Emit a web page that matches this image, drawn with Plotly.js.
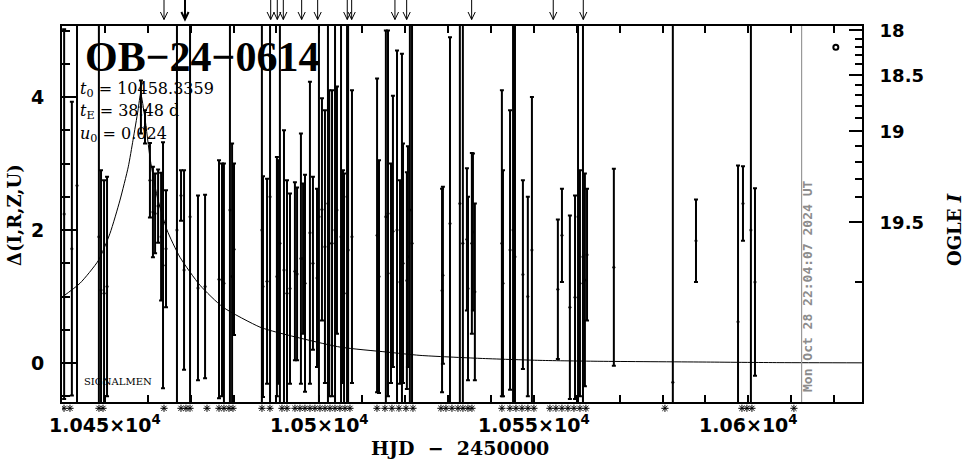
<!DOCTYPE html>
<html><head><meta charset="utf-8">
<script src="https://cdn.plot.ly/plotly-3.0.1.min.js"></script>
<style>html,body{margin:0;padding:0;background:#fff;}#chart{width:965px;height:459px;}</style>
</head><body><div id="chart"></div>
<script>
// ---- data ----
const obsT = [10440.5,10442.3,10443.5,10448.6,10449.1,10449.8,10450.5,10458.4,10459.35,10460.5,10461.2,10461.7,10462.4,10463.1,10463.55,10464.25,10466.8,10467.75,10468.45,10469.85,10471.7,10473.35,10476.6,10477.3,10477.75,10479.15,10479.65,10480.1,10486.6,10486.85,10487.8,10488.5,10490.1,10490.35,10490.8,10491.75,10492.45,10493.15,10494.3,10494.8,10495.7,10496.2,10496.65,10497.8,10498.5,10499.45,10499.9,10500.6,10501.3,10502.0,10502.3,10502.95,10503.65,10504.1,10505.05,10505.5,10505.75,10506.45,10506.7,10507.6,10513.45,10513.9,10515.5,10516.0,10516.7,10517.15,10518.1,10518.8,10519.25,10519.5,10520.4,10520.65,10521.1,10521.6,10528.6,10528.8,10530.45,10532.75,10533.45,10534.4,10534.65,10535.55,10535.8,10536.25,10542.55,10542.8,10544.45,10545.15,10545.6,10547.45,10548.6,10549.55,10555.6,10556.55,10558.4,10559.6,10560.3,10560.75,10561.45,10561.9,10562.4,10568.65,10582.4,10587.8,10597.6,10598.75,10600.6,10601.55];
const obsDelta = [2.24,1.72,2.67,1.9,1.1,1.05,1.15,3.85,3.55,2.75,2.27,2.25,2.36,1.9,1.47,1.72,2.0,2.52,1.4,2.2,1.13,1.15,1.26,1.25,1.2,2.3,1.3,1.71,2.0,1.15,1.23,2.5,1.3,1.37,1.8,1.4,1.05,1.12,1.38,1.34,1.57,1.57,1.2,1.96,1.5,1.28,2.2,2.31,1.75,2.4,1.8,1.8,2.0,2.3,1.9,1.3,1.05,2.5,1.7,1.9,1.92,1.3,2.2,2.25,1.35,1.98,2.0,1.22,2.0,1.5,1.24,1.6,2.3,1.8,1.09,1.32,2.1,2.4,1.8,1.86,1.12,1.8,1.97,1.07,1.8,1.2,1.7,2.0,1.6,1.33,1.0,1.7,1.11,1.92,0.84,0.99,2.2,1.2,1.6,1.25,1.63,1.44,-0.29,1.84,0.62,2.4,2.0,1.22];
const obsErr = [2.78,2.21,3.6,3.5,1.8,1.7,1.65,0.4,0.25,0.56,0.68,0.6,0.55,0.96,1.85,0.88,3.5,0.38,1.5,3.5,1.39,1.38,1.79,1.75,1.8,3.4,2.0,1.29,3.5,1.66,1.54,3.3,1.8,1.68,3.5,2.1,1.7,1.43,1.34,1.3,1.88,1.13,1.63,2.27,1.3,1.34,3.4,1.67,2.05,3.3,2.3,2.3,3.5,1.86,3.4,1.6,1.8,3.3,3.4,2.2,2.36,1.75,2.8,2.75,1.65,2.04,2.7,1.53,2.65,1.8,1.63,1.66,3.4,3.5,1.53,1.33,2.8,3.4,3.5,1.07,1.38,1.36,1.18,1.33,2.3,1.7,2.1,3.5,3.5,1.42,1.5,2.3,1.05,0.70,1.38,1.53,3.4,1.7,3.5,1.6,0.99,1.48,5.5,0.62,2.35,0.56,3.6,1.41];

const modelT = [10440.0,10444.2,10448.46,10451.19,10453.52,10455.45,10456.55,10457.72,10458.34,10459.3,10460.6,10462.2,10464.48,10467.51,10472.17,10477.53,10486.15,10490.82,10504.8,10515.76,10523.45,10537.44,10551.42,10565.41,10589.42,10607.37,10626.48];
const modelDelta = [0.99,1.20,1.54,1.95,2.45,2.95,3.35,3.80,4.05,3.70,3.05,2.50,2.00,1.59,1.17,0.84,0.54,0.45,0.24,0.165,0.115,0.07,0.04,0.026,0.015,0.006,0.003];

// observation markers (asterisks under the axis)
const markT = [10440.47,10441.86,10448.62,10449.56,10463.78,10467.74,10468.90,10469.84,10473.80,10476.60,10477.76,10478.93,10479.86,10486.62,10488.48,10491.28,10492.45,10494.31,10495.48,10496.64,10497.81,10498.97,10500.14,10501.31,10502.47,10503.64,10504.80,10505.97,10507.13,10513.43,10515.29,10516.92,10518.55,10520.19,10521.82,10528.34,10529.51,10530.91,10532.31,10533.47,10534.64,10535.57,10542.56,10544.43,10545.83,10547.23,10548.62,10550.02,10553.75,10555.15,10556.55,10557.95,10559.35,10560.75,10562.14,10580.56,10598.51,10599.67,10600.84,10610.63];
// arrows above the frame
const arrowT = [10463.78,10468.67,10488.65,10490.19,10491.59,10495.87,10499.60,10506.50,10507.53,10517.62,10520.35,10535.50,10554.52,10561.52];
const arrowBold = [0,1,0,0,0,0,0,0,0,0,0,0,0,0];

const keyT = [10620.4];
const keyDelta = [4.75];
const nowHJD = 10612.42;

const xTickVals = [10450,10500,10550,10600];
const xTickText = ['1.045×10<sup>4</sup>','1.05×10<sup>4</sup>','1.055×10<sup>4</sup>','1.06×10<sup>4</sup>'];
const leftTickVals = [0,2,4];
const ogleMajorText = ['18','18.5','19','19.5'];
const ogleMajorDelta = [5.003,4.326,3.484,2.116];
const ogleMinorDelta = [4.868,4.747,4.627,4.492,4.176,4.026,3.860,3.680,3.259,3.018,2.762,2.492,1.213];

const eventName = 'OB−24−0614';
const t0Text = '10458.3359', tEText = '38.48', u0Text = '0.024';
const stamp = 'Mon Oct 28 22:04:07 2024 UT';

// ---- layout geometry ----
const W = 965, H = 459, ML = 62, MR = 103, MT = 26, MB = 43;
const FRAME_BOTTOM = 402;                 // bottom of the data frame (px)
const PW = W - ML - MR, PH = H - MT - MB;
const XR = [10440, 10626.5], YR = [-0.586, 5.068];
const px = v => (v - ML) / PW;
const py = v => (H - MB - v) / PH;
const yDom = [py(FRAME_BOTTOM), 1];
const dayPx = PW / (XR[1] - XR[0]);

const traces = [
  {x: modelT, y: modelDelta, mode: 'lines', line: {color: '#000', width: 1, shape: 'spline', smoothing: 0.6}, hoverinfo: 'skip'},
  {x: obsT, y: obsDelta, mode: 'markers', marker: {color: '#000', size: 3},
   error_y: {type: 'data', array: obsErr, visible: true, color: '#000', thickness: 2, width: 2}},
  {x: keyT, y: keyDelta, mode: 'markers', marker: {symbol: 'circle-open', size: 5, color: '#000', line: {color: '#000', width: 2}}},
  {x: markT, y: markT.map(() => 0.55), yaxis: 'y4', mode: 'markers', hoverinfo: 'skip',
   marker: {symbol: 'asterisk-open', size: 6, color: '#000', line: {color: '#000', width: 1}}},
  {x: [null], y: [null], yaxis: 'y2', mode: 'markers', hoverinfo: 'skip'},
  {x: [null], y: [null], yaxis: 'y3', mode: 'markers', hoverinfo: 'skip'}
];

// arrows above the frame, drawn as shapes
const shapes = [{type: 'line', xref: 'x', yref: 'y domain', x0: nowHJD, x1: nowHJD, y0: 0, y1: 1, line: {color: '#999', width: 1.2}}];
const hw = 3.6 / dayPx;
arrowT.forEach((t, i) => {
  const w = arrowBold[i] ? 2 : 1;
  shapes.push({type: 'line', xref: 'x', yref: 'paper', x0: t, x1: t, y0: py(0), y1: py(19.5), line: {color: '#000', width: w}});
  shapes.push({type: 'path', xref: 'x', yref: 'paper',
    path: `M${t - hw},${py(12)} L${t},${py(19.5)} L${t + hw},${py(12)}`, line: {color: '#000', width: w}});
});

const ann = [];
const ser = 'DejaVu Serif';
ann.push({x: px(83), y: py(56.5), xref: 'paper', yref: 'paper', xanchor: 'left', yanchor: 'middle', showarrow: false,
  text: eventName, font: {family: 'Liberation Serif', size: 42, weight: 'bold', color: '#000'}});
[['<i>t</i><sub>0</sub> = ' + t0Text, 89], ['<i>t</i><sub>E</sub> = ' + tEText + ' d', 111.5], ['<i>u</i><sub>0</sub> = ' + u0Text, 134.5]]
  .forEach(([s, y]) => ann.push({x: px(78), y: py(y), xref: 'paper', yref: 'paper', xanchor: 'left', yanchor: 'middle', showarrow: false,
    text: s, font: {family: ser, size: 16, color: '#000'}}));
ann.push({x: px(82), y: py(381), xref: 'paper', yref: 'paper', xanchor: 'left', yanchor: 'middle', showarrow: false,
  text: 'SIGNALMEN', font: {family: ser, size: 10, color: '#000'}});
ann.push({x: px(14), y: py(215), xref: 'paper', yref: 'paper', xanchor: 'center', yanchor: 'middle', showarrow: false, textangle: -90,
  text: 'Δ(I,R,Z,U)', font: {family: ser, size: 18, weight: 'bold', color: '#000'}});
ann.push({x: px(955), y: py(230), xref: 'paper', yref: 'paper', xanchor: 'center', yanchor: 'middle', showarrow: false, textangle: -90,
  text: 'OGLE <i>I</i>', font: {family: ser, size: 18, weight: 'bold', color: '#000'}});
ann.push({x: px(460), y: py(448), xref: 'paper', yref: 'paper', xanchor: 'center', yanchor: 'middle', showarrow: false,
  text: 'HJD  −  2450000', font: {family: 'DejaVu Serif', size: 19, weight: 'bold', color: '#000'}});
ann.push({x: px(807), y: py(287), xref: 'paper', yref: 'paper', xanchor: 'center', yanchor: 'middle', showarrow: false, textangle: -90,
  text: stamp, font: {family: 'DejaVu Sans Mono', size: 13, weight: 'bold', color: '#8c8c8c'}});

const tickFont = {family: 'DejaVu Sans', size: 19, weight: 'bold', color: '#000'};
const layout = {
  width: W, height: H, margin: {l: ML, r: MR, t: MT, b: MB, pad: 0},
  paper_bgcolor: '#fff', plot_bgcolor: '#fff', showlegend: false,
  xaxis: {range: XR, anchor: 'y', tickmode: 'array', tickvals: xTickVals, ticktext: xTickText, ticks: 'inside', ticklen: 7, tickwidth: 2, tickcolor: '#000',
    showline: true, linewidth: 2, linecolor: '#000', mirror: 'ticks', showgrid: false, zeroline: false, tickfont: tickFont, ticklabelstandoff: 5,
    minor: {dtick: 10, tick0: 10440, ticks: 'inside', ticklen: 7, tickwidth: 2, tickcolor: '#000', showgrid: false}},
  yaxis: {domain: yDom, range: YR, tickmode: 'array', tickvals: leftTickVals, ticks: 'inside', ticklen: 16, tickwidth: 2, tickcolor: '#000',
    showline: true, linewidth: 2, linecolor: '#000', showgrid: false, zeroline: false, tickfont: tickFont, ticklabelstandoff: 12,
    minor: {dtick: 0.5, tick0: 0, ticks: 'inside', ticklen: 8, tickwidth: 2, tickcolor: '#000', showgrid: false}},
  yaxis2: {domain: yDom, overlaying: 'y', side: 'right', range: YR, tickmode: 'array', tickvals: ogleMajorDelta, ticktext: ogleMajorText,
    ticks: 'inside', ticklen: 13, tickwidth: 2, tickcolor: '#000', showline: true, linewidth: 2, linecolor: '#000',
    showgrid: false, zeroline: false, tickfont: {family: 'DejaVu Sans', size: 18, weight: 'bold', color: '#000'}, ticklabelstandoff: 12},
  yaxis3: {domain: yDom, overlaying: 'y', side: 'right', range: YR, tickmode: 'array', tickvals: ogleMinorDelta, showticklabels: false,
    ticks: 'inside', ticklen: 7, tickwidth: 2, tickcolor: '#000', showline: false, showgrid: false, zeroline: false},
  yaxis4: {domain: [0, yDom[0]], range: [0, 1], anchor: 'x', visible: false, showgrid: false, zeroline: false},
  shapes: shapes,
  annotations: ann
};
Plotly.newPlot('chart', traces, layout, {staticPlot: true, displayModeBar: false});
</script></body></html>
